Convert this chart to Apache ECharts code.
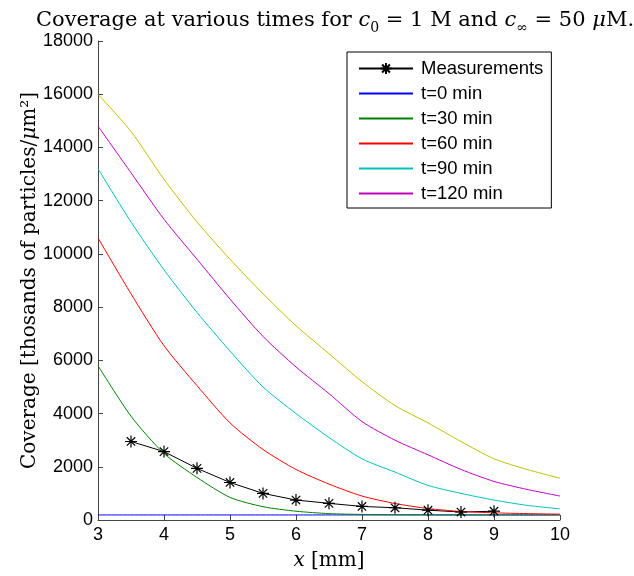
<!DOCTYPE html>
<html><head><meta charset="utf-8">
<script src="https://cdn.jsdelivr.net/npm/echarts@6/dist/echarts.min.js"></script>
<style>html,body{margin:0;padding:0;background:#fff}#c{width:634px;height:576px}</style>
</head><body><div id="c"></div>
<script>
var xs = [3, 3.5, 4, 4.5, 5, 5.5, 6, 6.5, 7, 7.5, 8, 8.5, 9, 9.5, 10];
var t0   = [190, 190, 190, 190, 190, 190, 190, 190, 190, 190, 190, 190, 190, 190, 190];
var t30  = [5800, 3900, 2500, 1600, 850, 500, 330, 240, 210, 200, 195, 190, 190, 190, 190];
var t60  = [10600, 8500, 6550, 5050, 3650, 2650, 1900, 1350, 900, 620, 430, 320, 270, 240, 220];
var t90  = [13200, 11200, 9400, 7800, 6350, 5000, 4000, 3100, 2300, 1800, 1300, 1000, 750, 550, 420];
var t120 = [14800, 13050, 11300, 9800, 8300, 6900, 5750, 4750, 3700, 3000, 2450, 1900, 1450, 1150, 900];
var t150 = [16000, 14600, 12800, 11200, 9800, 8500, 7300, 6250, 5200, 4300, 3650, 2950, 2300, 1900, 1570];
var measX = [3.5, 4, 4.5, 5, 5.5, 6, 6.5, 7, 7.5, 8, 8.5, 9];
var measY = [2950, 2570, 1940, 1410, 1000, 750, 625, 510, 460, 370, 300, 330];
var names = ['Measurements', 't=0 min', 't=30 min', 't=60 min', 't=90 min', 't=120 min'];

function pairs(x, y) { return x.map(function (v, i) { return [v, y[i]]; }); }
var star = 'path://M0,-10L0,10M-10,0L10,0M-7,-7L7,7M-7,7L7,-7';
var serif = 'DejaVu Serif';
var sans = 'Liberation Sans';

function curve(name, data, color) {
  return { name: name, type: 'line', data: pairs(xs, data), symbol: 'none', showSymbol: false,
    smooth: 0.25,
    lineStyle: { color: color, width: 1 }, itemStyle: { color: color }, animation: false };
}

var legendData = names.map(function (n, i) {
  return i === 0 ? { name: n } : { name: n, itemStyle: { opacity: 0 } };
});

var chart = echarts.init(document.getElementById('c'), null, { renderer: 'canvas' });
chart.setOption({
  animation: false,
  title: {
    text: '{n|Coverage at various times for }{i|c}{s|0}{n| = 1 M and }{i|c}{s|∞}{n| = 50 }{i|μ}{n|M.}',
    left: 330, textAlign: 'center', top: 2,
    textStyle: {
      fontWeight: 'normal',
      rich: {
        n: { fontFamily: serif, fontSize: 21, fontWeight: 'normal', color: '#000', lineHeight: 28 },
        i: { fontFamily: serif, fontSize: 21, fontWeight: 'normal', fontStyle: 'italic', color: '#000', lineHeight: 28 },
        s: { fontFamily: serif, fontSize: 14, fontWeight: 'normal', color: '#000', verticalAlign: 'bottom', lineHeight: 14 }
      }
    }
  },
  grid: { left: 98, right: 74, top: 41, bottom: 55, containLabel: false },
  legend: {
    data: legendData, orient: 'vertical', left: 347, top: 52,
    itemWidth: 54, itemHeight: 14, itemGap: 6,
    padding: [7, 8, 5, 11], borderColor: '#000', borderWidth: 1, backgroundColor: '#fff',
    textStyle: { fontFamily: sans, fontSize: 18.5, color: '#000', padding: [0, 0, 0, 3] },
    selectedMode: false
  },
  xAxis: {
    type: 'value', min: 3, max: 10, interval: 1,
    name: '{i|x}{n| [mm]}', nameLocation: 'middle', nameGap: 31, nameMoveOverlap: false,
    nameTextStyle: { rich: {
      i: { fontFamily: serif, fontSize: 20, fontStyle: 'italic', color: '#000' },
      n: { fontFamily: serif, fontSize: 20, color: '#000' } } },
    axisLine: { lineStyle: { color: '#444', width: 1 } },
    axisTick: { inside: true, length: 5, lineStyle: { color: '#444' } },
    axisLabel: { fontFamily: sans, fontSize: 18, color: '#000', margin: 6, formatter: function (v) { return String(v); } },
    splitLine: { show: false }
  },
  yAxis: {
    type: 'value', min: 0, max: 18000, interval: 2000,
    name: '{n|Coverage [thosands of particles/}{i|μ}{n|m²]}', nameLocation: 'middle', nameGap: 58, nameMoveOverlap: false,
    nameTextStyle: { rich: {
      i: { fontFamily: serif, fontSize: 20, fontStyle: 'italic', color: '#000' },
      n: { fontFamily: serif, fontSize: 20, color: '#000' } } },
    axisLine: { show: true, lineStyle: { color: '#444', width: 1 } },
    axisTick: { show: true, inside: true, length: 5, lineStyle: { color: '#444' } },
    axisLabel: { fontFamily: sans, fontSize: 18, color: '#000', margin: 5, formatter: function (v) { return String(v); } },
    splitLine: { show: false }
  },
  series: [
    { name: 'Measurements', type: 'line', data: pairs(measX, measY), symbol: star, symbolSize: 12,
      showSymbol: true, lineStyle: { color: '#000', width: 1 },
      itemStyle: { color: '#000', borderColor: '#000', borderWidth: 1.2 }, animation: false },
    curve('t=0 min', t0, '#0000ff'),
    curve('t=30 min', t30, '#008000'),
    curve('t=60 min', t60, '#ff0000'),
    curve('t=90 min', t90, '#00bfbf'),
    curve('t=120 min', t120, '#bf00bf'),
    curve('t=150 min', t150, '#bfbf00')
  ]
});
</script>
</body></html>
